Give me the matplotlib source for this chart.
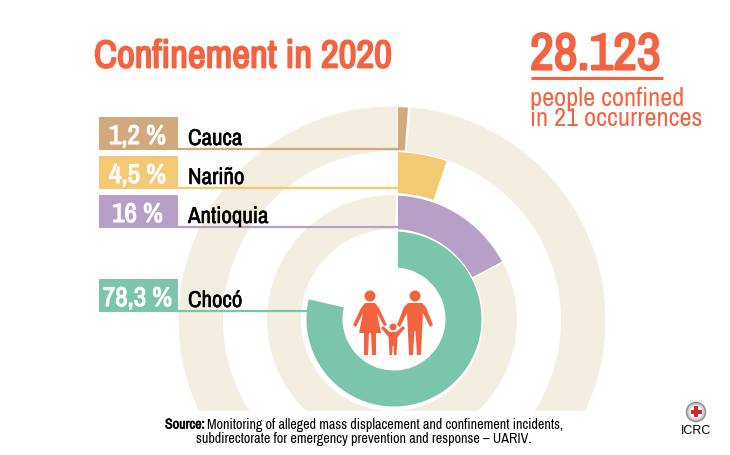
import matplotlib.pyplot as plt
import matplotlib.patheffects as pe
from matplotlib.patches import Wedge, Rectangle, Circle, Polygon

plt.rcParams['font.family'] = ['Archivo Narrow', 'Roboto Condensed', 'Liberation Sans', 'DejaVu Sans']

regions = ['Cauca', 'Nariño', 'Antioquia', 'Chocó']
share_labels = ['1,2 %', '4,5 %', '16 %', '78,3 %']
# where each sector ends, degrees clockwise from the top
sector_ends = [4.3, 19, 62, 283]
colors = ['#d2a97c', '#f3ca73', '#b89fc7', '#7bc5ad']

title = 'Confinement in 2020'
total = '28.123'
subtitle = ['people confined', 'in 21 occurrences']
source = ['Monitoring of alleged mass displacement and confinement incidents,',
          'subdirectorate for emergency prevention and response – UARIV.']

CORAL = '#f4633f'
TRACK = '#f4eee1'
centers = [(392, 321), (392, 321), (392, 321), (394, 320)]
rings = [(170, 213), (127, 168), (91, 124.5), (51.5, 87.5)]
box_tops = [118, 157, 196, 280]
box_h = 33
line_ends = [402, 398, 398, 308]

fig = plt.figure(figsize=(7.3, 4.56), dpi=100)
ax = fig.add_axes([0, 0, 1, 1])
ax.set_xlim(0, 730)
ax.set_ylim(456, 0)
ax.axis('off')


def fat(text_obj, w):
    text_obj.set_path_effects([pe.Stroke(linewidth=w, foreground=text_obj.get_color()), pe.Normal()])


# clip shapes keep a vertical slot free at the top of the rings
sector_clip = Polygon([(398, 0), (730, 0), (730, 456), (0, 456), (0, 0), (385, 0), (385, 321), (398, 321)],
                      closed=True, transform=ax.transData)
track_clip = Polygon([(403, 0), (730, 0), (730, 412), (0, 412), (0, 0), (397, 0), (397, 321), (403, 321)],
                     closed=True, transform=ax.transData)

# y axis is flipped so wedge angles run clockwise, -90 is the top
for i, (end, color) in enumerate(zip(sector_ends, colors)):
    r_in, r_out = rings[i]
    a2 = -90 + end
    if i in (0, 2):
        track_in = 169 if i == 0 else r_in
        track_out = 213.5 if i == 0 else 125
        track = Wedge(centers[i], track_out, a2 + 0.7, 272, width=track_out - track_in, fc=TRACK, ec='none')
        ax.add_patch(track)
        track.set_clip_path(track_clip)
    sector = Wedge(centers[i], r_out, -90, a2, width=r_out - r_in, fc=color, ec='none', zorder=2)
    ax.add_patch(sector)
    sector.set_clip_path(sector_clip)

for i, region in enumerate(regions):
    top = box_tops[i]
    ax.add_patch(Rectangle((99, top), 79, box_h, fc=colors[i], ec='none', zorder=3))
    ax.plot([178, line_ends[i]], [top + box_h - 1.5] * 2, color=colors[i], lw=1.6, zorder=3,
            solid_capstyle='butt')
    t = ax.text(137.5, top + box_h / 2 + 3, share_labels[i], color='white', fontsize=19.5,
                ha='center', va='center', zorder=4)
    fat(t, 0.8)
    t = ax.text(188, top + box_h / 2 + 5.5, region, color='black', fontsize=16.5,
                ha='left', va='center', zorder=4)
    fat(t, 0.35)

t = ax.text(94, 58, title, color=CORAL, fontsize=28, ha='left', va='center')
fat(t, 1.3)
t = ax.text(530, 56, total, color=CORAL, fontsize=37.5, ha='left', va='center')
fat(t, 1.5)
ax.plot([531, 663], [78.5, 78.5], color=CORAL, lw=2.2, solid_capstyle='butt')
ax.text(530, 99, subtitle[0], color=CORAL, fontsize=19, ha='left', va='center')
ax.text(530, 119, subtitle[1], color=CORAL, fontsize=19, ha='left', va='center')


def person(cx, head_y, head_r, pts):
    ax.add_patch(Circle((cx, head_y), head_r, fc=CORAL, ec='none', zorder=5))
    ax.add_patch(Polygon([(cx + dx, y) for dx, y in pts], closed=True, fc=CORAL, ec='none', zorder=5))


# mother
person(370, 297, 5.5, [(-5, 304), (5, 304), (9, 309), (17, 326), (14, 327), (7, 314),
                       (11, 334), (6, 334), (6, 356), (2, 356), (1, 334), (-1, 334),
                       (-2, 356), (-6, 356), (-6, 334), (-11, 334), (-7, 314), (-14, 328),
                       (-17, 326), (-9, 309)])
# father
person(415, 297, 5.5, [(-7, 304), (7, 304), (11, 308), (18, 326), (15, 328), (8, 314),
                       (7, 334), (6, 356), (2, 356), (0.5, 332), (-0.5, 332), (-2, 356),
                       (-6, 356), (-7, 334), (-8, 314), (-15, 328), (-18, 326), (-11, 308)])
# child
person(393, 328, 3.5, [(-3, 333), (3, 333), (10, 327), (12, 329), (4.5, 338), (4, 347),
                       (3.5, 356), (1, 356), (0.5, 347), (-0.5, 347), (-1, 356), (-3.5, 356),
                       (-4, 347), (-4.5, 338), (-12, 329), (-10, 327)])

t = ax.text(165, 425.5, 'Source:', color='black', fontsize=10.15, ha='left', va='center')
fat(t, 0.4)
ax.text(207, 425.5, source[0], color='black', fontsize=10.15, ha='left', va='center')
ax.text(363.5, 439, source[1], color='black', fontsize=10.15, ha='center', va='center')

# logo
ax.add_patch(Circle((696, 413), 9.5, fc='#cfcfcf', ec='#8a8a8a', lw=1))
ax.add_patch(Circle((696, 413), 6.5, fc='white', ec='none'))
ax.add_patch(Rectangle((694.2, 407.5), 3.6, 11, fc='#d8232a', ec='none'))
ax.add_patch(Rectangle((690.5, 411.2), 11, 3.6, fc='#d8232a', ec='none'))
ax.text(696.5, 431, 'ICRC', color='black', fontsize=9, ha='center', va='center',
        family=['Liberation Sans'])

fig.savefig('out.png', dpi=100, facecolor='white')
